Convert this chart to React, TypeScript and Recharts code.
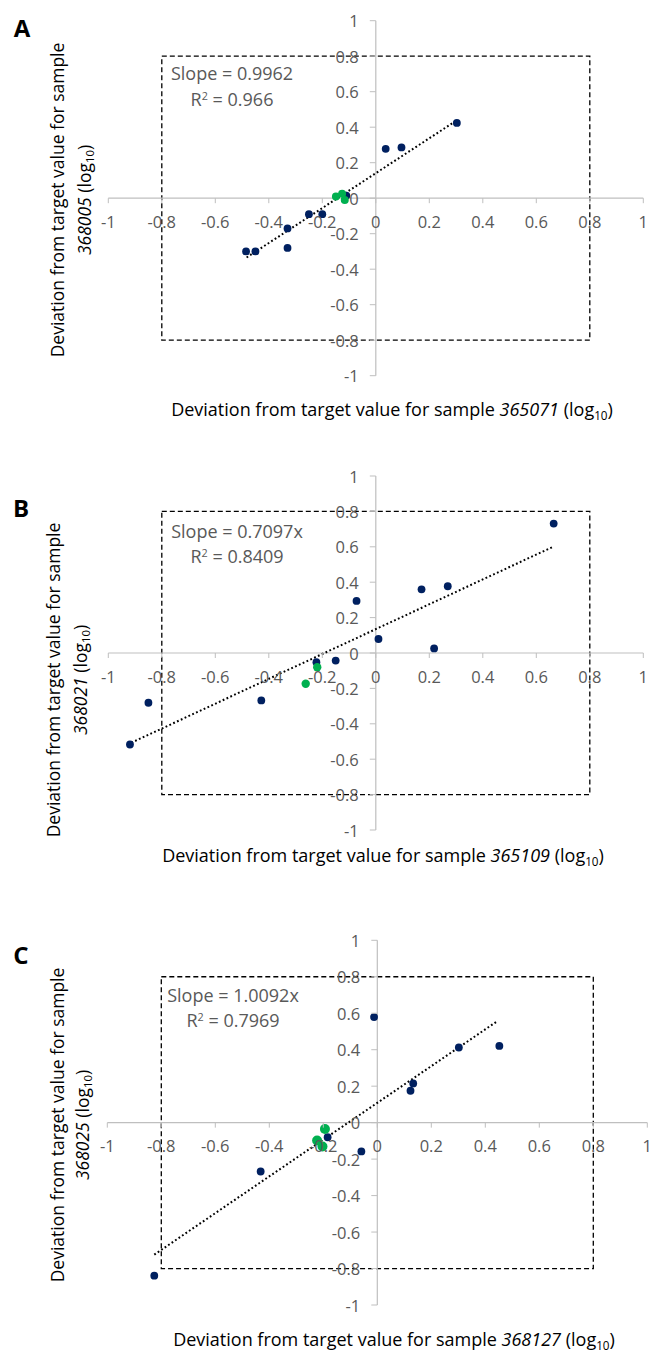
import React from "react";
import {
  ScatterChart,
  Scatter,
  XAxis,
  YAxis,
  ReferenceLine,
  ReferenceArea,
} from "recharts";

// axis ticks (both axes)
const ticks = [-1, -0.8, -0.6, -0.4, -0.2, 0, 0.2, 0.4, 0.6, 0.8, 1];

// panel A: 365071 vs 368005
const aNavy = [
  [-0.485, -0.3], [-0.45, -0.3], [-0.33, -0.17], [-0.33, -0.28], [-0.25, -0.09],
  [-0.2, -0.09], [-0.11, 0.015], [0.037, 0.278], [0.096, 0.286], [0.303, 0.424],
];
const aGreen = [[-0.149, 0.01], [-0.126, 0.025], [-0.116, -0.01]];
const aTrend = [[-0.483, -0.334], [0.3, 0.436]];

// panel B: 365109 vs 368021
const bNavy = [
  [-0.919, -0.517], [-0.85, -0.281], [-0.428, -0.268], [-0.222, -0.052], [-0.15, -0.043],
  [-0.072, 0.294], [0.01, 0.079], [0.171, 0.36], [0.269, 0.377], [0.218, 0.026], [0.665, 0.731],
];
const bGreen = [[-0.262, -0.174], [-0.219, -0.08]];
const bTrend = [[-0.914, -0.507], [0.661, 0.599]];

// panel C: 368127 vs 368025
const cNavy = [
  [-0.012, 0.579], [0.133, 0.215], [0.123, 0.175], [-0.184, -0.08], [-0.059, -0.158],
  [-0.432, -0.268], [0.302, 0.412], [0.452, 0.421], [-0.826, -0.839],
];
const cGreen = [[-0.194, -0.035], [-0.223, -0.098], [-0.203, -0.131]];
const cTrend = [[-0.826, -0.724], [0.441, 0.553]];

const FONT = "'Open Sans', Lato, sans-serif";
const NAVY = "#002060";
const GREEN = "#00b050";
const AXIS = "#bfbfbf";
const GREY_TEXT = "#595959";

const pts = (arr: number[][]) => arr.map(([x, y]) => ({ x, y }));

interface PanelProps {
  top: number;
  height: number;
  margin: { top: number; right: number; bottom: number; left: number };
  navy: number[][];
  green: number[][];
  greenR: number;
  trend: number[][];
}

function Panel({ top, height, margin, navy, green, greenR, trend }: PanelProps) {
  // axes take 1px each, so pull the margins in by 1
  const m = { ...margin, left: margin.left - 1, bottom: margin.bottom - 1 };
  const plotW = 651 - margin.left - margin.right;
  const plotH = height - margin.top - margin.bottom;
  const ox = margin.left + plotW / 2;
  const oy = margin.top + plotH / 2;

  const xTick = (p: any) => (
    <g>
      <line x1={p.x} x2={p.x} y1={oy} y2={oy + 5} stroke={AXIS} />
      <text
        x={p.x}
        y={oy + 23}
        textAnchor="middle"
        dominantBaseline="central"
        fill={GREY_TEXT}
        fontSize={16.5}
        fontFamily={FONT}
      >
        {String(p.payload.value)}
      </text>
    </g>
  );
  const yTick = (p: any) => (
    <g>
      <line x1={ox - 6} x2={ox} y1={p.y} y2={p.y} stroke={AXIS} />
      <text
        x={ox - 17}
        y={p.y}
        textAnchor="end"
        dominantBaseline="central"
        fill={GREY_TEXT}
        fontSize={16.5}
        fontFamily={FONT}
      >
        {String(p.payload.value)}
      </text>
    </g>
  );

  return (
    <div style={{ position: "absolute", left: 0, top }}>
      <ScatterChart width={651} height={height} margin={m}>
        <XAxis
          type="number"
          dataKey="x"
          domain={[-1, 1]}
          ticks={ticks}
          interval={0}
          height={1}
          axisLine={false}
          tickLine={false}
          tick={xTick}
          allowDataOverflow
        />
        <YAxis
          type="number"
          dataKey="y"
          domain={[-1, 1]}
          ticks={ticks}
          interval={0}
          width={1}
          axisLine={false}
          tickLine={false}
          tick={yTick}
          allowDataOverflow
        />
        <ReferenceLine y={0} stroke={AXIS} strokeWidth={1.2} />
        <ReferenceLine x={0} stroke={AXIS} strokeWidth={1.2} />
        <ReferenceArea
          x1={-0.8}
          x2={0.8}
          y1={-0.8}
          y2={0.8}
          fill="none"
          fillOpacity={0}
          stroke="#000"
          strokeWidth={1.3}
          strokeDasharray="5 3"
        />
        <Scatter
          data={pts(navy)}
          isAnimationActive={false}
          shape={(p: any) => <circle cx={p.cx} cy={p.cy} r={3.9} fill={NAVY} />}
        />
        <Scatter
          data={pts(green)}
          isAnimationActive={false}
          shape={(p: any) => <circle cx={p.cx} cy={p.cy} r={greenR} fill={GREEN} />}
        />
        <ReferenceLine
          segment={pts(trend)}
          stroke="#000"
          strokeWidth={2}
          strokeDasharray="1.8 2.4"
        />
      </ScatterChart>
    </div>
  );
}

const abs = (x: number, y: number, extra: React.CSSProperties = {}): React.CSSProperties => ({
  position: "absolute",
  left: x,
  top: y,
  transform: "translate(-50%, -50%)",
  whiteSpace: "nowrap",
  lineHeight: 1,
  ...extra,
});

const Log10 = () => (
  <span>
    (log<span style={{ fontSize: "0.65em", position: "relative", top: "0.3em" }}>10</span>)
  </span>
);

function Letter({ x, y, t }: { x: number; y: number; t: string }) {
  return <div style={abs(x, y, { fontSize: 24, fontWeight: 700, color: "#000" })}>{t}</div>;
}

function Stats({ x, y1, y2, s, r }: { x: number; y1: number; y2: number; s: string; r: string }) {
  return (
    <>
      <div style={abs(x, y1, { fontSize: 18, color: GREY_TEXT })}>Slope = {s}</div>
      <div style={abs(x, y2, { fontSize: 18, color: GREY_TEXT })}>
        R<span style={{ fontSize: "0.6em", position: "relative", top: "-0.6em" }}>2</span> = {r}
      </div>
    </>
  );
}

function XTitle({ x, y, id }: { x: number; y: number; id: string }) {
  return (
    <div style={abs(x, y, { fontSize: 18, color: "#000" })}>
      Deviation from target value for sample <i>{id}</i> <Log10 />
    </div>
  );
}

function YTitle({ x1, x2, y, id }: { x1: number; x2: number; y: number; id: string }) {
  const rot = "translate(-50%, -50%) rotate(-90deg)";
  return (
    <>
      <div style={{ ...abs(x1, y, { fontSize: 17.5, color: "#000" }), transform: rot }}>
        Deviation from target value for sample
      </div>
      <div style={{ ...abs(x2, y, { fontSize: 17.5, color: "#000" }), transform: rot }}>
        <i>{id}</i> <Log10 />
      </div>
    </>
  );
}

export default function App() {
  return (
    <div
      style={{
        position: "absolute",
        left: 0,
        top: 0,
        width: 651,
        height: 1352,
        background: "#fff",
        fontFamily: FONT,
        overflow: "hidden",
      }}
    >
      <Panel
        top={0}
        height={450}
        margin={{ top: 20.7, right: 7.7, bottom: 74.3, left: 108.3 }}
        navy={aNavy}
        green={aGreen}
        greenR={4}
        trend={aTrend}
      />
      <Panel
        top={450}
        height={450}
        margin={{ top: 26, right: 7.7, bottom: 70, left: 108.3 }}
        navy={bNavy}
        green={bGreen}
        greenR={4.2}
        trend={bTrend}
      />
      <Panel
        top={900}
        height={452}
        margin={{ top: 40.3, right: 3.7, bottom: 47, left: 107.3 }}
        navy={cNavy}
        green={cGreen}
        greenR={5}
        trend={cTrend}
      />

      <Letter x={22} y={28} t="A" />
      <Letter x={21} y={508} t="B" />
      <Letter x={21} y={955} t="C" />

      <Stats x={232} y1={73} y2={99} s="0.9962" r="0.966" />
      <Stats x={237} y1={531} y2={556} s="0.7097x" r="0.8409" />
      <Stats x={233} y1={995} y2={1020} s="1.0092x" r="0.7969" />

      <XTitle x={392} y={409} id="365071" />
      <XTitle x={383} y={855} id="365109" />
      <XTitle x={394} y={1339} id="368127" />

      <YTitle x1={58} x2={85} y={200} id="368005" />
      <YTitle x1={54} x2={81} y={680} id="368021" />
      <YTitle x1={58} x2={83} y={1125} id="368025" />
    </div>
  );
}
